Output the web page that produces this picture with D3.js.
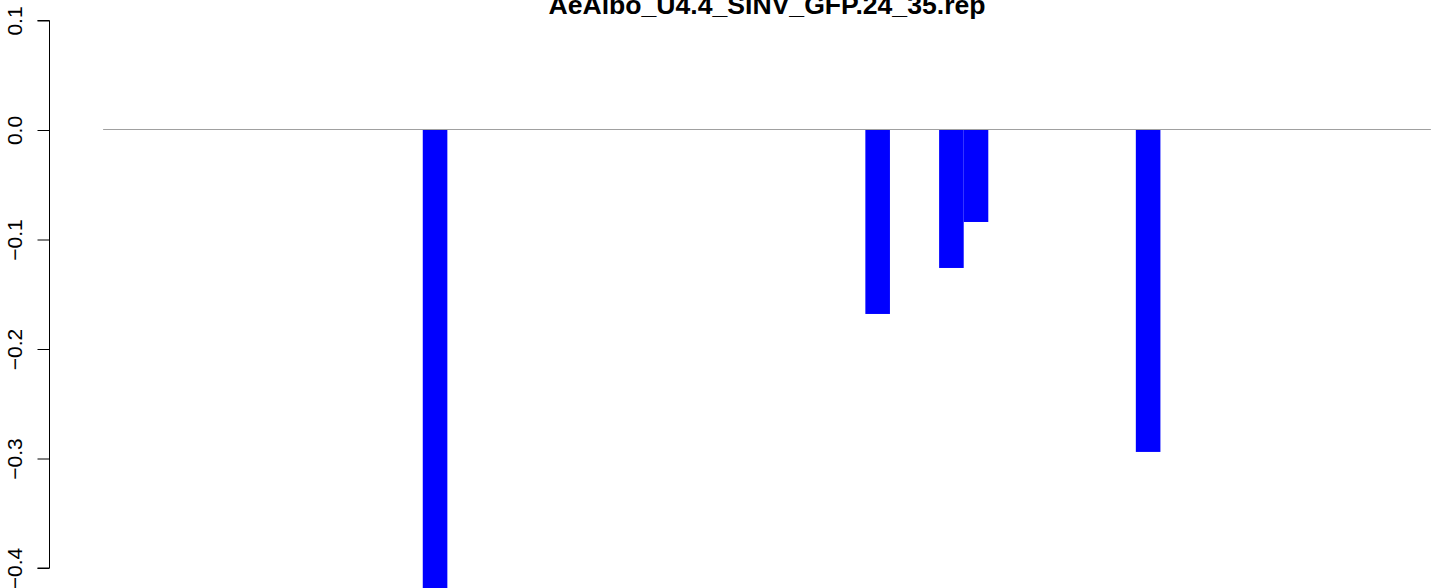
<!DOCTYPE html>
<html>
<head>
<meta charset="utf-8">
<script src="https://cdn.jsdelivr.net/npm/d3@7"></script>
<style>
html,body{margin:0;padding:0;background:#fff;}
svg{display:block;}
text{font-family:"Liberation Sans",Arial,Helvetica,sans-serif;}
</style>
</head>
<body>
<svg id="chart" width="1433" height="588"></svg>
<script>
const title = "AeAlbo_U4.4_SINV_GFP.24_35.rep";
// 54 positions; only a few are non-zero
const positions = d3.range(1, 55);
const barIndex = [14, 32, 35, 36, 43];
const barValues = [-0.45, -0.168, -0.126, -0.084, -0.294];
const values = positions.map(p => {
  const i = barIndex.indexOf(p);
  return i >= 0 ? barValues[i] : 0;
});
const yTicks = [0.1, 0.0, -0.1, -0.2, -0.3, -0.4];

const W = 1433, H = 588;
const plotLeft = 50, plotRight = 1484;
const svg = d3.select("#chart");

// x: data range with 4% extension like R
const n = positions.length;
const xr = d3.scaleLinear().domain([-0.04 * n, n * 1.04]).range([plotLeft, plotRight]);
const y = d3.scaleLinear().domain([0, 0.1]).range([130, 20.5]);

svg.append("clipPath").attr("id", "clip")
  .append("rect").attr("x", plotLeft).attr("y", 0).attr("width", W - plotLeft).attr("height", H);

const g = svg.append("g").attr("clip-path", "url(#clip)");
g.selectAll("rect.bar").data(positions.map((p, i) => ({p, i, v: values[i]})).filter(d => d.v !== 0))
  .enter().append("rect").attr("class", "bar")
  .attr("x", d => xr(d.i))
  .attr("width", d => xr(d.i + 1) - xr(d.i))
  .attr("y", d => y(Math.max(0, d.v)))
  .attr("height", d => Math.abs(y(d.v) - y(0)))
  .attr("fill", "#0000ff");

g.append("line")
  .attr("x1", xr(0)).attr("x2", xr(n))
  .attr("y1", y(0) - 0.5).attr("y2", y(0) - 0.5)
  .attr("stroke", "#a0a0a0").attr("stroke-width", 1);

// y axis
const axis = d3.axisLeft(y).tickValues(yTicks).tickSize(12).tickPadding(0)
  .tickFormat(d3.format(".1f"));
const ag = svg.append("g").attr("transform", `translate(${plotLeft - 0.5},0)`).call(axis);
ag.attr("font-size", null);
ag.select(".domain").attr("d", `M-12,${y(0.1)}H0V${y(-0.4)}H-12`).attr("stroke", "#000");
ag.selectAll(".tick line").attr("stroke", "#000");
ag.selectAll(".tick text")
  .style("font-size", "21px")
  .attr("fill", "#000")
  .attr("text-anchor", "middle")
  .attr("x", 0).attr("dy", 0)
  .attr("transform", "translate(-27.5,0) rotate(-90)")
  .attr("y", 0)
  .text(d => d3.format(".1f")(d).replace("-", "\u2212"));

svg.append("text")
  .attr("x", (plotLeft + plotRight) / 2)
  .attr("y", 14)
  .attr("text-anchor", "middle")
  .attr("font-weight", "bold")
  .attr("font-size", 26.6)
  .attr("fill", "#000")
  .text(title);
</script>
</body>
</html>
